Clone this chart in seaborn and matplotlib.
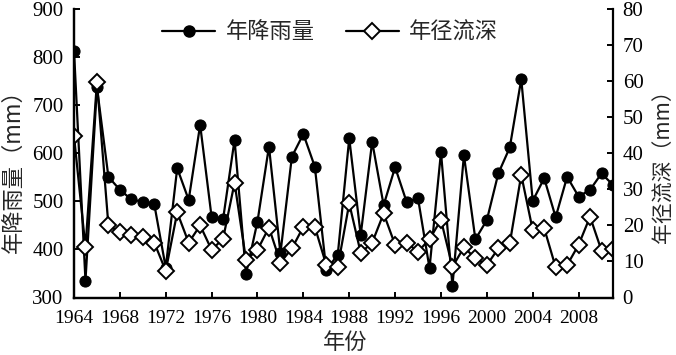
import matplotlib
matplotlib.use("Agg")
import matplotlib.pyplot as plt
import seaborn as sns
import pandas as pd
from matplotlib.lines import Line2D

years = list(range(1964, 2012))
rainfall = [813, 335, 737, 551, 524, 504, 499, 494, 362, 569, 503, 659, 467, 463, 628, 349,
            458, 614, 392, 593, 640, 572, 357, 389, 631, 430, 624, 492, 571, 499, 506, 361,
            602, 324, 596, 421, 461, 558, 612, 754, 501, 548, 467, 551, 510, 524, 558, 534]
runoff = [44.8, 13.9, 59.8, 20.0, 18.1, 17.2, 16.7, 15.2, 7.4, 23.6, 15.2, 20.0, 13.2, 16.3, 31.8, 10.4,
          13.2, 19.4, 9.7, 13.6, 19.6, 19.6, 9.0, 8.5, 26.1, 12.4, 15.2, 23.3, 14.6, 15.2, 12.7, 16.2,
          21.5, 8.5, 13.9, 10.9, 9.0, 13.6, 15.0, 34.0, 18.7, 19.2, 8.4, 9.0, 14.6, 22.4, 13.0, 13.4]
xticks = list(range(1964, 2012, 4))

df = pd.DataFrame({"year": years, "rain": rainfall, "runoff": runoff})

sns.set_theme(style="ticks")
plt.rcParams["font.family"] = ["Liberation Serif", "Noto Sans CJK SC"]
cjk = ["Noto Sans CJK SC", "DejaVu Sans"]

fig = plt.figure(figsize=(6.76, 3.55), dpi=100)
ax = fig.add_axes([74 / 676, 1 - 297.5 / 355, (613 - 74) / 676, (297.5 - 9) / 355])
ax2 = ax.twinx()

sns.lineplot(data=df, x="year", y="rain", ax=ax, color="black", lw=1.6,
             marker="o", markersize=8, markerfacecolor="black", markeredgecolor="black")
sns.lineplot(data=df, x="year", y="runoff", ax=ax2, color="black", lw=1.6,
             marker="D", markersize=8.5, markerfacecolor="white", markeredgecolor="black",
             markeredgewidth=1.4)

ax.set_xlim(1964, 2011)
ax.set_ylim(300, 900)
ax2.set_ylim(0, 80)
ax.set_xticks(xticks)
ax.set_yticks(range(300, 901, 100))
ax2.set_yticks(range(0, 81, 10))

for a in (ax, ax2):
    a.spines["top"].set_visible(False)
    for s in a.spines.values():
        s.set_linewidth(1.6)
        s.set_color("black")
    a.tick_params(direction="in", length=4, width=1.4, colors="black")
ax.spines["right"].set_visible(False)
ax.tick_params(axis="x", labelsize=14, pad=9)
ax.tick_params(axis="y", labelsize=15, pad=7.5)
ax2.tick_params(axis="y", labelsize=15, pad=7)

ax.set_xlabel("年份", fontsize=16, family=cjk)
ax.set_ylabel("年降雨量（mm）", fontsize=16, family=cjk)
ax2.set_ylabel("年径流深（mm）", fontsize=15, family=cjk)
ax.xaxis.set_label_coords((345 - 74) / 539, (297.5 - 331) / 288.5)
ax.yaxis.set_label_coords((25 - 74) / 539, (297.5 - 166) / 288.5)
ax2.yaxis.set_label_coords((653 - 74) / 539, (297.5 - 161) / 288.5)

h1 = Line2D([], [], color="black", lw=1.6, marker="o", markersize=8, markerfacecolor="black")
h2 = Line2D([], [], color="black", lw=1.6, marker="D", markersize=8.5, markerfacecolor="white",
            markeredgewidth=1.4)
fig.legend([h1, h2], ["年降雨量", "年径流深"], loc="center", bbox_to_anchor=(330 / 676, 1 - 32 / 355),
           ncol=2, frameon=False, handlelength=2.4, handletextpad=0.45, columnspacing=1.4,
           prop={"family": cjk, "size": 16})

fig.savefig("out.png", dpi=100)
